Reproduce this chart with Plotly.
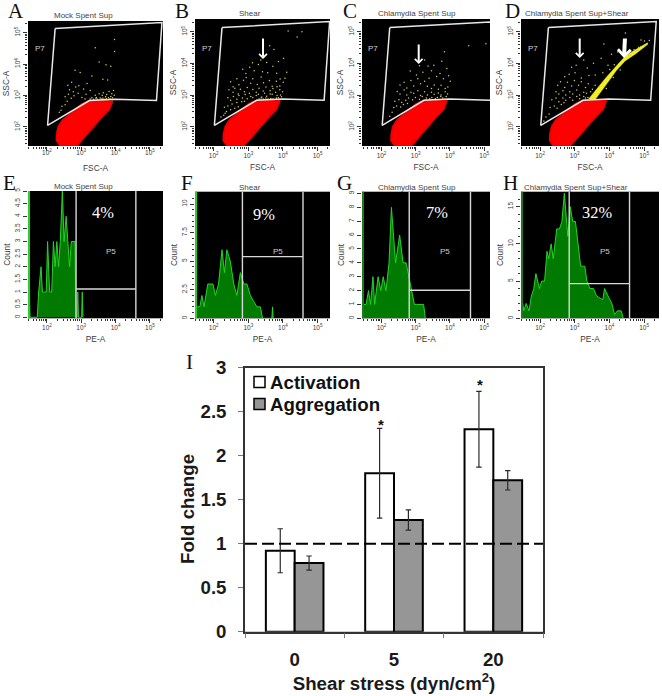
import numpy as np
import plotly.graph_objects as go

W, H = 662, 696

gate_x = [2.24, 5.35, 5.19, 3.98, 3.24, 2.02, 2.24]
gate_y = [5.13, 5.32, 2.84, 2.88, 2.84, 2.05, 5.13]
red_x = [2.29, 2.34, 2.46, 2.72, 3.01, 3.26, 3.64, 3.90, 3.81, 3.58, 3.33, 3.08, 2.86, 2.39, 2.28, 2.29]
red_y = [1.79, 2.02, 2.22, 2.47, 2.72, 2.84, 2.84, 2.81, 2.56, 2.30, 1.98, 1.68, 1.40, 1.40, 1.58, 1.79]
band_x = [3.40, 3.65, 3.90, 4.20, 4.45, 4.70, 5.10, 5.10, 4.75, 4.45, 4.20, 3.95, 3.75, 3.60]
band_y = [2.88, 3.22, 3.55, 3.92, 4.22, 4.40, 4.65, 4.60, 4.30, 4.08, 3.78, 3.40, 3.08, 2.88]

a_pts = [(3.41,4.52),(3.97,4.78),(3.97,4.4),(2.82,3.8),(2.97,3.73),(3.72,3.98),(3.52,4.07),(3.86,3.93),(3.31,3.62),(3.63,3.52),(3.17,3.38),(3.77,3.49),
(2.61,3.33),(2.72,3.42),(2.66,3.18),(2.77,3.12),(2.84,3.27),(2.93,3.31),(3.07,3.21),(3.14,3.04),(3.26,3.16),(2.53,2.96),(2.63,3.04),(2.71,2.91),(2.79,2.99),(2.91,3.07),(3.02,2.94),(3.11,2.89),(2.44,2.66),(2.53,2.71),(2.59,2.82),(2.41,2.53),(2.36,2.47),
(3.41,3.01),(3.44,2.94),(3.52,3.06),(3.55,2.92),(3.61,3.01),(3.64,3.09),(3.71,2.96),(3.74,3.03),(3.81,3.13),(3.86,2.97),(3.89,3.06),(3.94,3.16),(3.31,2.93),(3.36,2.88),(3.43,2.91),(3.47,2.88),(3.58,2.89),(3.63,2.91),(3.67,2.88),(3.73,2.9),(3.79,2.93),(3.84,2.9),(3.91,2.93),(3.96,3.01),(3.26,2.89)]

b_pts = [(4.15,5.02),(4.55,5.0),(4.41,4.83),(3.62,4.56),(3.74,4.44),(3.36,4.11),(3.12,4.02),(3.04,3.88),(3.29,3.97),(3.53,4.03),(3.71,3.91),(3.87,4.06),(4.02,4.16),(4.11,3.72),(4.06,3.53),(2.84,3.82),(2.93,3.68),(3.17,3.77),(3.41,3.74),(3.56,3.71),(3.82,3.69),(4.01,3.41),(3.91,3.29),
(2.49,3.42),(2.56,3.27),(2.67,3.52),(2.73,3.33),(2.86,3.47),(2.94,3.56),(3.07,3.38),(3.13,3.52),(3.26,3.34),(3.37,3.57),(3.44,3.39),(3.61,3.46),(3.69,3.28),(3.81,3.44),(3.92,3.51),
(2.44,3.17),(2.56,3.09),(2.61,3.22),(2.71,3.04),(2.77,3.19),(2.89,3.11),(2.97,3.24),(3.03,3.06),(3.13,3.18),(3.23,3.09),(3.31,3.22),(3.43,3.13),(3.51,3.26),(3.63,3.14),(3.71,3.21),(3.83,3.27),(3.91,3.17),(3.99,3.11),
(2.41,2.92),(2.49,2.84),(2.57,2.96),(2.67,2.87),(2.73,2.99),(2.83,2.91),(2.91,3.02),(2.97,2.89),(3.07,2.96),(3.13,2.93),(3.23,2.99),(3.29,3.03),(3.39,2.94),(3.47,3.06),(3.53,2.97),(3.63,3.04),(3.69,3.03),(3.79,3.09),(3.83,2.99),(3.93,3.01),
(2.31,2.62),(2.37,2.49),(2.41,2.66),(2.49,2.54),(2.53,2.72),(2.61,2.59),(2.67,2.77),(2.71,2.64),(2.81,2.79),(2.89,2.81),(2.33,2.43),(2.29,2.37),(2.21,2.31),
(3.31,2.88),(3.37,2.91),(3.43,2.88),(3.51,2.91),(3.57,2.88),(3.65,2.9),(3.71,2.88),(3.81,2.91),(3.87,2.92),(3.96,2.95)]

c_pts = [(4.55,4.56),(5.05,4.62),(3.84,4.37),(3.26,4.11),(3.11,3.93),(3.36,3.92),(3.53,3.94),(3.76,4.07),(3.91,3.84),(3.46,3.77),(3.71,3.68),(3.96,3.61),(2.84,3.76),(3.02,3.64),(3.21,3.72),(3.39,3.53),(3.61,3.59),(3.81,3.52),(4.01,3.44),
(2.54,3.32),(2.66,3.41),(2.74,3.23),(2.86,3.46),(2.94,3.29),(3.06,3.52),(3.14,3.36),(3.26,3.44),(3.34,3.28),(3.46,3.21),(3.54,3.32),(3.66,3.19),(3.74,3.31),(3.86,3.21),(3.94,3.26),
(2.46,3.12),(2.54,3.04),(2.66,3.16),(2.74,3.01),(2.86,3.09),(2.94,3.06),(3.06,3.14),(3.14,2.99),(3.26,3.11),(3.34,3.01),(3.46,3.09),(3.54,3.03),(3.66,3.07),(3.74,3.01),(3.86,3.11),(3.93,3.04),
(2.39,2.81),(2.51,2.86),(2.59,2.77),(2.71,2.84),(2.79,2.91),(2.91,2.86),(2.99,2.93),(3.11,2.87),(3.19,2.96),(2.36,2.61),(2.44,2.66),(2.56,2.63),(2.64,2.71),(2.76,2.74),(2.31,2.46),(2.24,2.34),
(3.31,2.91),(3.41,2.89),(3.47,2.93),(3.57,2.89),(3.63,2.93),(3.73,2.96),(3.79,2.91),(3.89,2.96)]

d_pts = [(4.46,4.96),(4.91,4.74),(5.01,4.71),(5.15,4.72),(3.84,4.61),(3.26,4.11),(3.04,3.94),(2.91,3.88),(3.36,3.86),(3.54,4.01),(3.76,4.16),(4.06,4.29),(4.24,4.36),(3.96,3.94),(4.01,3.81),
(2.71,3.58),(2.84,3.66),(3.01,3.71),(3.19,3.54),(3.41,3.62),(3.59,3.64),(3.81,3.71),
(2.51,3.31),(2.59,3.42),(2.71,3.24),(2.79,3.41),(2.91,3.29),(2.99,3.46),(3.11,3.31),(3.19,3.42),(3.31,3.24),(3.39,3.36),(3.51,3.19),(3.59,3.31),(3.71,3.26),
(2.46,3.11),(2.54,3.04),(2.66,3.14),(2.74,3.01),(2.86,3.11),(2.94,3.04),(3.06,3.16),(3.14,3.01),(3.26,3.09),(3.34,3.06),(3.46,3.11),(3.54,3.04),
(2.34,2.86),(2.46,2.91),(2.54,2.79),(2.66,2.91),(2.74,2.84),(2.86,2.93),(2.94,2.84),(3.06,2.96),(3.14,2.89),(3.26,2.96),(2.29,2.61),(2.41,2.66),(2.49,2.59),(2.61,2.71),(2.69,2.76),(2.26,2.41),(2.17,2.31),(2.11,2.19),
(4.61,4.27),(4.71,4.43),(4.79,4.41),(4.91,4.53),(5.01,4.57),(5.08,4.62),(4.56,4.24),(4.84,4.51),(3.31,2.91),(3.38,2.93),(3.51,2.88),(3.91,3.21),(4.11,3.56),(4.31,3.79),(4.14,3.96)]

# ---------- histogram panels: log10 PE-A and count
e_x = [1.45,1.47,1.48,1.50,1.51,1.72,1.76,1.83,1.87,1.93,1.98,2.02,2.08,2.14,2.19,2.24,2.29,2.34,2.39,2.45,2.50,2.56,2.61,2.66,2.71,2.77,2.82,2.84,2.88,2.90,2.92,3.01,3.03,3.05]
e_y = [2.5,2.5,2.5,0.5,0,0,1,2,1,1,1,3,1,1,3,2,3,2,3,5,3,4,3,2,3,3,3,0,0,1,0,0,1,0]

f_x = [1.46,1.47,1.50,1.52,1.60,1.66,1.72,1.83,1.98,2.05,2.14,2.24,2.31,2.38,2.48,2.58,2.67,2.77,2.87,2.96,3.06,3.15,3.25,3.35,3.41,3.68,3.70,3.72]
f_y = [7,7,1,1,1,2,1,3,3,2,3,6,4,6,5,3,2,4,3,3,2,1.5,1,1,0,0,1,0]

g_x = [1.43,1.44,1.47,1.55,1.62,1.68,1.75,1.80,1.90,1.98,2.05,2.13,2.22,2.29,2.35,2.41,2.47,2.53,2.63,2.72,2.88,2.96,3.03,3.10,3.16,3.23,3.28]
g_y = [5.5,5.5,1,1,2,1,3,1,3,2,3,2,4,8,6,4,5,6,4,4,2,1,1,1,1,1,0]

h_x = [1.45,1.47,1.53,1.60,1.68,1.75,1.82,1.88,1.98,2.05,2.13,2.20,2.25,2.32,2.38,2.48,2.56,2.63,2.70,2.75,2.80,2.87,2.94,3.02,3.10,3.17,3.25,3.29,3.35,3.44,3.54,3.63,3.81,3.86,3.96,4.07,4.15,4.23,4.34,4.40]
h_y = [5,3,1,2,1,3,4,6,4,5,5,9,8,10,8,12,12,13,16.8,14,11,15,13,13,10,7,7,7,5,4,4,3,2.5,4,3,2,0.5,1,1,0]

# ---------- panel I
stress_labels = ["0", "5", "20"]
activation = [0.92, 1.80, 2.30]
activation_err = [0.25, 0.51, 0.43]
aggregation = [0.78, 1.27, 1.72]
aggregation_err = [0.08, 0.115, 0.11]

# ---------- layout helpers (pixels of the page -> paper fractions)
def px(x): return x / W
def py(y): return 1 - y / H

minor_vals = [m * 10**k for k in range(1, 6) for m in range(2, 10)]
major_vals = [1e2, 1e3, 1e4, 1e5]
major_txt = ["10<sup>2</sup>", "10<sup>3</sup>", "10<sup>4</sup>", "10<sup>5</sup>"]
TXT = "#3c3c3c"

fig = go.Figure()
layout = dict(width=W, height=H, margin=dict(l=0, r=0, t=0, b=0), paper_bgcolor="white",
              plot_bgcolor="black", showlegend=False, font=dict(family="Liberation Sans", color=TXT))
ann = []
shapes = []

def note(x, y, text, size, color=TXT, family="Liberation Sans", **kw):
    ann.append(dict(x=px(x), y=py(y), xref="paper", yref="paper", text=text, showarrow=False,
                    font=dict(size=size, color=color, family=family), xanchor="center", yanchor="middle", **kw))

def arrow(x0, y0, x1, y1, width, head):
    ann.append(dict(x=px(x1), y=py(y1), xref="paper", yref="paper", ax=x0 - x1, ay=y0 - y1, axref="pixel", ayref="pixel",
                    text="", showarrow=True, arrowhead=4, arrowsize=head, arrowwidth=width, arrowcolor="white", standoff=0))

def log_axes(i, box, xr, yr, ytickvals, yticktext, ylog, xtitle, ytitle, yminor=None, lab_off=-1, tit_off=6):
    l, t, r, b = box
    sx = "" if i == 1 else str(i)
    layout["xaxis" + sx] = dict(type="log", range=xr, domain=[px(l), px(r)], anchor="y" + sx, tickmode="array",
        tickvals=major_vals, ticktext=major_txt, ticks="outside", ticklen=4, tickcolor="#333", tickwidth=1, showgrid=False,
        zeroline=False, showline=False, tickfont=dict(size=6.5, color=TXT), ticklabelstandoff=lab_off,
        minor=dict(tickmode="array", tickvals=minor_vals, ticks="outside", ticklen=2, tickcolor="#333", showgrid=False),
        title=dict(text=xtitle, font=dict(size=8.3, color=TXT), standoff=tit_off), automargin=False)
    ay = dict(range=yr, domain=[py(b), py(t)], anchor="x" + sx, tickmode="array", tickvals=ytickvals, ticktext=yticktext,
        tickangle=-90, ticks="outside", ticklen=4, tickcolor="#333", showgrid=False, zeroline=False, showline=False,
        tickfont=dict(size=6.5, color=TXT), title=dict(text=ytitle, font=dict(size=8.3, color=TXT), standoff=2), automargin=False)
    if ylog:
        ay["type"] = "log"
        ay["minor"] = dict(tickmode="array", tickvals=minor_vals, ticks="outside", ticklen=2, tickcolor="#333", showgrid=False)
    elif yminor:
        ay["minor"] = dict(tickmode="array", tickvals=yminor, ticks="outside", ticklen=2, tickcolor="#333", showgrid=False)
    layout["yaxis" + sx] = ay
    return "x" + sx, "y" + sx

def e10(v): return 10 ** np.array(v, dtype=float)

scatter_panels = [
    (1, (28, 21, 163, 146), [1.45, 5.38], [1.395, 5.37], a_pts, False, -4, 10),
    (2, (195, 19, 330, 146), [1.46, 5.36], [1.40, 5.40], b_pts, False, -1, 6),
    (3, (362, 19, 490, 146), [1.43, 5.17], [1.40, 5.40], c_pts, False, -1, 6),
    (4, (521, 19, 659, 146), [1.45, 5.43], [1.40, 5.40], d_pts, True, -1, 6),
]
for i, box, xr, yr, pts, band, lo, to in scatter_panels:
    xa, ya = log_axes(i, box, xr, yr, major_vals, major_txt, True, "FSC-A", "SSC-A", None, lo, to)
    fig.add_trace(go.Scatter(x=e10(red_x), y=e10(red_y), mode="lines", fill="toself", fillcolor="#ff0000",
                             line=dict(color="#ee0000", width=2), xaxis=xa, yaxis=ya, hoverinfo="skip"))
    if band:
        fig.add_trace(go.Scatter(x=e10(band_x), y=e10(band_y), mode="lines", fill="toself", fillcolor="#f4f020",
                                 line=dict(color="#f4f020", width=0.5), xaxis=xa, yaxis=ya, hoverinfo="skip"))
    fig.add_trace(go.Scatter(x=e10([p[0] for p in pts]), y=e10([p[1] for p in pts]), mode="markers",
                             marker=dict(color="#cfcb60", size=1.5, line=dict(width=0)), xaxis=xa, yaxis=ya))
    fig.add_trace(go.Scatter(x=e10(gate_x), y=e10(gate_y), mode="lines", line=dict(color="#e8e8e8", width=1.5),
                             xaxis=xa, yaxis=ya, hoverinfo="skip"))

hist_panels = [
    (5, (28, 191, 163, 318.3), [1.45, 5.38], [-0.04, 5.0], e_x, e_y, (2.85, 4.59, 1.12), "#2ad02a",
     [0, .5, 1, 1.5, 2, 2.5, 3, 3.5, 4, 4.5, 5], ["0", "0.5", "1", "1.5", "2", "2.5", "3", "3.5", "4", "4.5", "5"], None),
    (6, (195, 191.7, 330, 318.3), [1.46, 5.36], [0, 11.08], f_x, f_y, (2.83, 4.58, 5.4), "#2ad02a",
     [0, 2.5, 5, 7.5, 10], ["0", "2.5", "5", "7.5", "10"], [0.5, 1, 1.5, 2, 3, 3.5, 4, 4.5, 5.5, 6, 6.5, 7, 8, 8.5, 9, 9.5, 10.5]),
    (7, (362, 191.7, 490, 318.3), [1.43, 5.17], [0, 9.13], g_x, g_y, (2.81, 4.60, 2.02), "#1f7a1f",
     list(range(10)), [str(v) for v in range(10)], None),
    (8, (521, 191.7, 659, 318.3), [1.45, 5.43], [0, 17.0], h_x, h_y, (2.84, 4.58, 4.66), "#1f7a1f",
     [0, 5, 10, 15], ["0", "5", "10", "15"], [1, 2, 3, 4, 6, 7, 8, 9, 11, 12, 13, 14, 16]),
]
for i, box, xr, yr, hx, hy, gate, edge, tv, tt, ym in hist_panels:
    xa, ya = log_axes(i, box, xr, yr, major_vals, major_txt, False, "PE-A", "Count", ym)
    layout["yaxis" + str(i)].update(tickvals=tv, ticktext=tt)
    fig.add_trace(go.Scatter(x=e10(hx), y=hy, mode="lines", fill="tozeroy", fillcolor="#007a00",
                             line=dict(color="#25d425", width=1), xaxis=xa, yaxis=ya, hoverinfo="skip"))
    # vertical stripe at the left edge of each histogram
    shapes.append(dict(type="line", xref="paper", yref="paper", x0=px(box[0] + 1), x1=px(box[0] + 1), y0=py(box[3]), y1=py(box[1]),
                       line=dict(color=edge, width=2)))
    g0, g1, gy = gate
    gx_line = [10**g0, 10**g0, None, 10**g1, 10**g1, None, 10**g0, 10**g1]
    gy_line = [yr[1], yr[0], None, yr[1], yr[0], None, gy, gy]
    fig.add_trace(go.Scatter(x=gx_line, y=gy_line, mode="lines", line=dict(color="#d8d8d8", width=1.4), xaxis=xa, yaxis=ya, hoverinfo="skip"))

# ---------- panel I
bar_err = dict(type="data", visible=True, color="#2a2a2a", thickness=1.2, width=2.7)
fig.add_trace(go.Bar(x=stress_labels, y=activation, name="Activation", marker=dict(color="white", line=dict(color="black", width=2)),
                     error_y=dict(array=activation_err, **bar_err), xaxis="x9", yaxis="y9"))
fig.add_trace(go.Bar(x=stress_labels, y=aggregation, name="Aggregation", marker=dict(color="#969696", line=dict(color="black", width=2)),
                     error_y=dict(array=aggregation_err, **bar_err), xaxis="x9", yaxis="y9"))
layout.update(barmode="group", bargap=0.42, bargroupgap=0)
layout["xaxis9"] = dict(domain=[px(245), px(543)], anchor="y9", type="category", tickson="boundaries", ticks="outside", ticklen=5,
    tickcolor="#777", showline=True, linecolor="#333", linewidth=1.5, mirror=True, showgrid=False, zeroline=False, ticklabelstandoff=10,
    tickfont=dict(size=18.7, color="#1a1a1a", family="Liberation Sans", weight="bold"), tickangle=0,
    title=dict(text="<b>Shear stress (dyn/cm<sup>2</sup>)</b>", font=dict(size=18.7, color="#1a1a1a"), standoff=4), automargin=False)
layout["yaxis9"] = dict(domain=[py(631.7), py(367.7)], anchor="x9", range=[0, 3], tickvals=[0, 0.5, 1, 1.5, 2, 2.5, 3],
    ticktext=["0", "0.5", "1", "1.5", "2", "2.5", "3"], ticks="outside", ticklen=5, tickcolor="#777", showline=True, linecolor="#333",
    linewidth=1.5, mirror=True, showgrid=False, zeroline=False, ticklabelstandoff=8,
    tickfont=dict(size=18.7, color="#1a1a1a", family="Liberation Sans", weight="bold"), automargin=False)
note(187, 509, "<b>Fold change</b>", 18.7, "#1a1a1a", textangle=-90)
shapes.append(dict(type="rect", xref="paper", yref="paper", x0=px(245), x1=px(543), y0=py(631.7), y1=py(367.7),
                   fillcolor="white", line=dict(width=0), layer="below"))
shapes.append(dict(type="line", xref="x9 domain", yref="y9", x0=0, x1=1, y0=1, y1=1, line=dict(color="black", width=2, dash="12px,5px")))

# manual legend (swatch + label) as in the reference
for y, col, label in [(382, "white", "Activation"), (404, "#969696", "Aggregation")]:
    shapes.append(dict(type="rect", xref="paper", yref="paper", x0=px(254), x1=px(265), y0=py(y + 5.5), y1=py(y - 5.5),
                       fillcolor=col, line=dict(color="black", width=1.5)))
    ann.append(dict(x=px(267.5), y=py(y), xref="paper", yref="paper", text="<b>%s</b>" % label, showarrow=False, xanchor="left",
                    yanchor="middle", font=dict(size=18.7, color="#111", family="Liberation Sans")))

note(380.7, 424, "<b>*</b>", 15, "#111")
note(480.3, 385, "<b>*</b>", 15, "#111")

# panel titles, letters, gate names, percentages
for x, y, t in [(83, 15.7, "Mock Spent Sup"), (250, 14, "Shear"), (416.7, 14, "Chlamydia Spent Sup"), (576.7, 14, "Chlamydia Spent Sup+Shear"),
                (83, 186.7, "Mock Spent Sup"), (250, 187.7, "Shear"), (416.7, 187.7, "Chlamydia Spent Sup"), (576, 187.7, "Chlamydia Spent Sup+Shear")]:
    note(x, y, t, 8, "#444")
for x, y, t in [(16, 11, "A"), (182, 11, "B"), (350, 11, "C"), (512, 11, "D"), (9, 183, "E"), (187, 183, "F"), (344, 183, "G"), (511, 183, "H"), (189, 362, "I")]:
    note(x, y, t, 21, "#111", "Liberation Serif")
for x, y in [(40, 49), (206.7, 48), (373.3, 48), (533.3, 48)]:
    note(x, y, "P7", 8, "#cfcfcf")
for x, y in [(111, 251), (278, 252), (444.7, 252), (604.7, 252)]:
    note(x, y, "P5", 8, "#cfcfcf")
for x, y, t in [(103, 213, "4%"), (264.3, 214, "9%"), (437, 213, "7%"), (596.7, 213, "32%")]:
    note(x, y, t, 16.4, "white", "Liberation Serif")

arrow(263, 37, 263, 59, 2, 0.75)
arrow(418.7, 43, 418.7, 64, 2, 0.75)
arrow(579.7, 37, 579.7, 58, 2, 0.75)
arrow(625, 37, 624, 58, 4, 0.62)

layout["annotations"] = ann
layout["shapes"] = shapes
fig.update_layout(**layout)
fig.write_html("out.html", config={"displayModeBar": False},
               post_script="document.body.style.margin='0';document.body.style.overflow='hidden';")
